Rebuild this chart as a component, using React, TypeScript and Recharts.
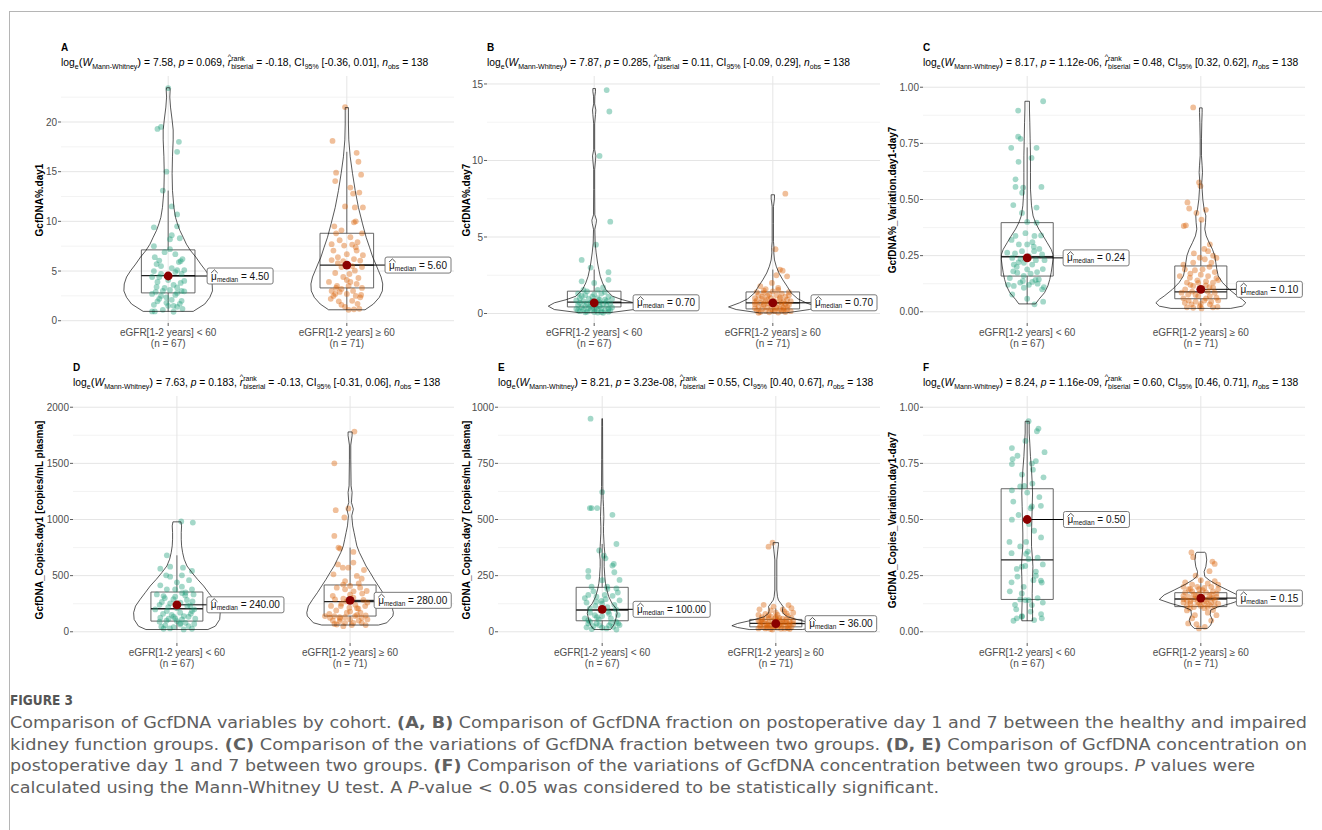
import React from "react";
import {
  ComposedChart,
  Scatter,
  XAxis,
  YAxis,
  CartesianGrid,
  ReferenceArea,
  ReferenceLine,
} from "recharts";

type Pt = [number, number];

const FONT = '"Liberation Sans", Arial, Helvetica, sans-serif';
const CAPTION_FONT = '"Liberation Sans Narrow", "DejaVu Sans Condensed", "Liberation Sans", sans-serif';

const GROUP_LABELS = ["eGFR[1-2 years] < 60", "eGFR[1-2 years] \u2265 60"];
const GROUP_N = ["(n = 67)", "(n = 71)"];
const GROUP_COLORS = ["#1B9E77", "#D95F02"];

// ---- A: GcfDNA%.day1 --------------------------------------------------
// points: [jitter, value]
const aLow: Pt[] = [
  [0.0, 23.4], [-0.06, 19.3], [-0.04, 19.5], [0.06, 18.0], [0.05, 17.0], [-0.01, 15.0], [-0.03, 13.1],
  [0.02, 11.5], [0.05, 10.7], [-0.08, 9.4], [0.05, 9.5], [0.02, 8.6], [0.065, 8.3], [0.01, 8.2],
  [-0.08, 7.5], [-0.075, 6.4], [0.04, 6.7], [-0.05, 6.05], [-0.065, 5.7], [0.05, 5.1], [0.09, 5.1],
  [0.075, 4.7], [-0.05, 4.4], [-0.09, 4.4], [-0.065, 3.4], [-0.03, 3.0], [0.01, 3.1], [0.05, 3.35],
  [0.075, 3.0], [0.09, 2.96], [-0.04, 2.5], [-0.01, 2.35], [-0.06, 1.95], [0.075, 2.0], [0.065, 1.7],
  [0.05, 1.4], [0.03, 1.5], [0.0, 1.5], [-0.075, 0.94], [-0.09, 0.94], [0.03, 0.9],
  [-0.02, 6.9], [0.08, 6.2], [-0.04, 5.5], [0.02, 5.3], [-0.08, 5.0], [0.04, 4.9], [0.0, 4.1],
  [-0.06, 3.9], [0.07, 3.8], [0.03, 3.6], [-0.02, 3.3], [0.09, 4.0], [-0.09, 2.7], [0.04, 2.6],
  [-0.05, 2.2], [0.02, 2.1], [-0.08, 1.6], [0.08, 1.2], [-0.03, 1.1], [0.06, 5.9], [-0.07, 2.9],
  [0.01, 7.2], [-0.04, 4.7], [0.05, 2.8], [-0.01, 1.8], [0.07, 6.0],
];
const aHigh: Pt[] = [
  [-0.01, 21.5], [-0.08, 18.1], [-0.06, 14.9], [-0.065, 14.05], [0.055, 16.9], [0.065, 16.0], [0.08, 14.7],
  [0.02, 13.4], [0.035, 12.8], [0.07, 12.9], [-0.01, 11.5], [0.045, 11.4], [0.09, 11.4], [0.05, 10.0],
  [0.04, 9.9], [-0.03, 9.1], [-0.06, 8.8], [0.085, 8.8], [0.02, 8.4], [-0.04, 8.1], [0.06, 7.9],
  [-0.085, 7.7], [-0.015, 7.56], [0.03, 7.66], [-0.075, 7.06], [0.055, 7.06], [0.0, 6.7], [-0.05, 6.4],
  [-0.085, 6.1], [0.04, 6.2], [0.075, 6.05], [-0.03, 5.4], [-0.065, 4.8], [0.015, 4.7], [0.045, 5.04],
  [0.085, 5.4], [-0.02, 4.4], [-0.1, 3.9], [-0.055, 3.5], [0.01, 3.5], [0.055, 3.7], [-0.085, 3.0],
  [-0.03, 3.2], [0.035, 3.0], [0.085, 3.3], [-0.065, 2.7], [0.0, 2.7], [0.05, 2.5], [-0.045, 1.95],
  [0.03, 2.0], [0.075, 2.35], [-0.01, 1.4], [0.01, 1.1], [0.04, 1.15], [0.07, 1.2], [-0.075, 2.5],
  [-0.02, 6.0], [0.065, 4.3], [-0.05, 5.8], [0.02, 3.9], [-0.09, 2.2], [0.06, 1.7], [-0.03, 1.6],
  [0.09, 6.6], [-0.07, 9.5], [0.03, 5.5], [-0.04, 2.9], [0.08, 2.6], [0.0, 4.1], [-0.06, 3.3], [0.05, 7.4],
];
// violins: [value, half width]
const aLowViolin: Pt[] = [
  [0.94, 0.14], [1.68, 0.205], [2.35, 0.233], [3.0, 0.248], [3.7, 0.246], [4.4, 0.233], [5.04, 0.21],
  [5.7, 0.182], [6.4, 0.155], [7.06, 0.125], [7.7, 0.102], [8.4, 0.084], [9.1, 0.065], [9.75, 0.052],
  [10.4, 0.041], [11.4, 0.032], [13.1, 0.024], [14.8, 0.022], [16.5, 0.024], [18.2, 0.028], [19.2, 0.028],
  [20.2, 0.022], [21.5, 0.013], [22.5, 0.009], [23.2, 0.011], [23.45, 0.009],
];
const aHighViolin: Pt[] = [
  [1.1, 0.102], [1.68, 0.149], [2.35, 0.182], [3.0, 0.199], [3.7, 0.201], [4.4, 0.192], [5.04, 0.177],
  [5.7, 0.162], [6.4, 0.145], [7.4, 0.127], [8.4, 0.108], [9.75, 0.088], [11.4, 0.065], [13.1, 0.047],
  [14.8, 0.032], [16.5, 0.019], [18.2, 0.011], [19.8, 0.009], [21.0, 0.009], [21.45, 0.009],
];
// boxes: [q1, median, q3, lower whisker, upper whisker]
const aBoxes = [[2.8, 4.54, 7.13, 0.94, 13.1], [3.3, 5.6, 8.8, 1.1, 17.0]];
const aMedians = [4.5, 5.6];

// ---- B: GcfDNA%.day7 --------------------------------------------------
const bLow: Pt[] = [
  [0.07, 14.6], [0.085, 13.2], [0.03, 10.3], [0.09, 6.0], [0.01, 4.5], [-0.07, 3.5], [-0.02, 3.0],
  [0.08, 2.7], [-0.07, 2.1], [0.0, 2.0], [0.08, 2.2], [0.05, 1.7], [-0.06, 1.55], [0.02, 1.55],
  [-0.09, 1.3], [-0.05, 1.2], [0.0, 1.25], [0.04, 1.3], [0.08, 1.1], [-0.08, 1.0], [-0.03, 0.95],
  [0.02, 1.0], [0.06, 0.9], [0.1, 0.95], [-0.1, 0.85], [-0.06, 0.8], [-0.01, 0.82], [0.03, 0.75],
  [0.07, 0.8], [-0.08, 0.7], [-0.04, 0.65], [0.01, 0.6], [0.05, 0.62], [0.09, 0.65], [-0.09, 0.55],
  [-0.05, 0.5], [-0.02, 0.45], [0.03, 0.48], [0.07, 0.5], [-0.07, 0.4], [-0.03, 0.35], [0.0, 0.3],
  [0.04, 0.35], [0.08, 0.3], [-0.1, 0.3], [-0.06, 0.25], [-0.02, 0.2], [0.02, 0.22], [0.06, 0.18],
  [-0.08, 0.15], [-0.04, 0.12], [0.0, 0.1], [0.04, 0.1], [0.08, 0.12], [-0.05, 0.08], [0.02, 0.06],
  [0.06, 1.4], [-0.04, 1.45], [-0.01, 1.1], [0.1, 0.4], [-0.09, 0.2], [0.05, 0.05], [-0.02, 0.7],
  [0.03, 0.9], [-0.07, 1.15], [0.01, 0.4], [0.09, 0.2],
];
const bHigh: Pt[] = [
  [0.07, 7.83], [0.015, 4.2], [0.04, 2.87], [0.055, 2.8], [0.08, 2.43], [0.02, 2.5], [-0.005, 2.0],
  [-0.07, 1.78], [0.03, 1.67], [-0.04, 1.6],
  [-0.09, 1.4], [-0.05, 1.35], [0.0, 1.45], [0.05, 1.3], [0.09, 1.4], [-0.08, 1.2], [-0.03, 1.15],
  [0.02, 1.2], [0.07, 1.1], [-0.1, 1.0], [-0.06, 0.95], [-0.01, 1.0], [0.04, 0.95], [0.08, 0.9],
  [-0.09, 0.85], [-0.04, 0.8], [0.01, 0.82], [0.06, 0.78], [0.1, 0.8], [-0.07, 0.7], [-0.02, 0.65],
  [0.03, 0.68], [0.07, 0.62], [-0.1, 0.6], [-0.05, 0.55], [0.0, 0.58], [0.05, 0.5], [0.09, 0.55],
  [-0.08, 0.45], [-0.03, 0.4], [0.02, 0.42], [0.06, 0.38], [-0.1, 0.35], [-0.06, 0.3], [-0.01, 0.28],
  [0.04, 0.3], [0.08, 0.25], [-0.09, 0.2], [-0.04, 0.18], [0.01, 0.15], [0.05, 0.18], [0.1, 0.15],
  [-0.07, 0.1], [-0.02, 0.08], [0.03, 0.06], [0.07, 0.1], [-0.05, 1.5], [0.03, 1.55], [-0.08, 0.05],
  [0.09, 1.2], [-0.03, 0.9], [0.02, 0.35], [-0.06, 1.1], [0.05, 0.7], [0.0, 0.2], [-0.1, 0.75],
  [0.08, 0.45], [-0.02, 1.25], [0.04, 1.05], [-0.05, 0.62], [0.06, 0.22],
];
const bLowViolin: Pt[] = [
  [0.06, 0.09], [0.26, 0.223], [0.48, 0.257], [0.7, 0.223], [0.9, 0.158], [1.13, 0.102], [1.57, 0.065],
  [2.0, 0.047], [2.43, 0.034], [2.87, 0.026], [3.3, 0.019], [3.96, 0.011], [4.6, 0.0056], [5.0, 0.0047],
  [5.5, 0.0037], [5.9, 0.011], [6.1, 0.013], [6.45, 0.0037], [8.1, 0.0028], [9.4, 0.0028], [10.0, 0.0074],
  [10.3, 0.0093], [10.7, 0.0028], [12.4, 0.0028], [13.0, 0.0074], [13.3, 0.0093], [13.7, 0.0028],
  [14.2, 0.0037], [14.5, 0.0074], [14.7, 0.0074],
];
const bHighViolin: Pt[] = [
  [0.04, 0.074], [0.26, 0.205], [0.43, 0.248], [0.7, 0.186], [0.96, 0.14], [1.35, 0.102], [1.78, 0.08],
  [2.2, 0.056], [2.65, 0.034], [3.09, 0.019], [3.5, 0.0093], [3.96, 0.0056], [4.3, 0.0065], [4.7, 0.0037],
  [5.9, 0.0037], [7.0, 0.0037], [7.5, 0.0093], [7.76, 0.0093],
];
const bBoxes = [[0.43, 0.74, 1.46, 0.08, 2.87], [0.3, 0.7, 1.41, 0.04, 2.87]];
const bMedians = [0.7, 0.7];

// ---- C: GcfDNA%_Variation.day1-day7 -----------------------------------
const cLow: Pt[] = [
  [0.092, 0.9375], [-0.052, 0.896], [-0.052, 0.78], [-0.038, 0.77], [-0.092, 0.73], [0.054, 0.73],
  [0.025, 0.685], [-0.05, 0.668], [-0.067, 0.59], [-0.067, 0.556], [-0.023, 0.553], [-0.029, 0.53],
  [0.082, 0.556], [-0.08, 0.475], [0.054, 0.464], [0.054, 0.397], [-0.067, 0.338], [0.042, 0.338],
  [-0.048, 0.3], [0.0, 0.3], [0.038, 0.29], [-0.115, 0.263], [-0.086, 0.24], [-0.038, 0.236],
  [0.01, 0.248], [0.086, 0.255], [-0.077, 0.21], [-0.019, 0.218], [0.029, 0.21], [0.0, 0.189],
  [-0.057, 0.174], [0.057, 0.177], [0.067, 0.144], [-0.025, 0.137], [0.029, 0.133], [0.048, 0.142],
  [-0.077, 0.115], [-0.019, 0.107], [0.096, 0.11], [0.086, 0.1], [-0.086, 0.077], [0.0, 0.058],
  [0.092, 0.045], [0.042, 0.033],
  [-0.09, 0.32], [-0.03, 0.27], [0.07, 0.28], [-0.06, 0.2], [0.02, 0.17], [-0.1, 0.15], [0.05, 0.23],
  [0.09, 0.19], [-0.04, 0.13], [0.01, 0.12], [-0.07, 0.26], [0.03, 0.31], [-0.01, 0.35], [0.08, 0.34],
  [-0.05, 0.22], [0.06, 0.125], [-0.02, 0.16], [0.04, 0.27], [-0.08, 0.18], [0.1, 0.23], [-0.11, 0.12],
  [0.0, 0.4], [-0.03, 0.44],
];
const cHigh: Pt[] = [
  [-0.044, 0.91], [-0.01, 0.576], [-0.002, 0.56], [-0.077, 0.487], [-0.067, 0.46], [-0.025, 0.44],
  [0.029, 0.454], [-0.098, 0.382], [-0.086, 0.385], [0.004, 0.41], [0.052, 0.3], [0.042, 0.27],
  [0.071, 0.25], [-0.006, 0.241], [0.023, 0.234], [-0.044, 0.219], [0.061, 0.219], [-0.092, 0.189],
  [-0.034, 0.185], [0.01, 0.189], [0.08, 0.177], [-0.121, 0.159], [-0.063, 0.152], [0.042, 0.159],
  [0.1, 0.141], [-0.015, 0.129], [-0.044, 0.115], [0.029, 0.118], [0.071, 0.107], [-0.111, 0.085],
  [-0.073, 0.077], [-0.015, 0.07], [0.052, 0.07], [0.09, 0.063], [-0.092, 0.04], [-0.054, 0.033],
  [-0.006, 0.025], [0.052, 0.033], [-0.044, 0.018], [0.004, 0.015], [0.096, 0.022],
  [-0.1, 0.06], [-0.07, 0.05], [-0.03, 0.045], [0.02, 0.05], [0.06, 0.045], [0.1, 0.05], [-0.09, 0.1],
  [-0.05, 0.09], [0.0, 0.095], [0.04, 0.09], [0.08, 0.085], [-0.08, 0.13], [-0.02, 0.14], [0.03, 0.135],
  [0.07, 0.13], [-0.06, 0.17], [0.0, 0.165], [0.05, 0.2], [-0.1, 0.21], [0.09, 0.24], [-0.04, 0.26],
  [0.02, 0.28], [-0.08, 0.02], [0.07, 0.02], [0.0, 0.035], [-0.03, 0.075], [0.05, 0.11], [-0.06, 0.12],
  [0.03, 0.06], [0.09, 0.15],
];
const cLowViolin: Pt[] = [
  [0.035, 0.048], [0.055, 0.067], [0.085, 0.1], [0.115, 0.119], [0.144, 0.13], [0.174, 0.138],
  [0.204, 0.144], [0.234, 0.149], [0.256, 0.148], [0.278, 0.138], [0.308, 0.115], [0.338, 0.092],
  [0.368, 0.067], [0.397, 0.048], [0.427, 0.034], [0.472, 0.025], [0.546, 0.019], [0.62, 0.019],
  [0.695, 0.019], [0.77, 0.017], [0.844, 0.015], [0.903, 0.013], [0.9375, 0.013],
];
const cHighViolin: Pt[] = [
  [0.015, 0.172], [0.025, 0.239], [0.04, 0.259], [0.055, 0.239], [0.07, 0.211], [0.1, 0.163],
  [0.13, 0.125], [0.16, 0.1], [0.19, 0.092], [0.22, 0.086], [0.25, 0.08], [0.278, 0.067], [0.308, 0.048],
  [0.338, 0.031], [0.368, 0.023], [0.397, 0.027], [0.427, 0.029], [0.457, 0.019], [0.5, 0.0115],
  [0.546, 0.0077], [0.576, 0.0057], [0.62, 0.0096], [0.65, 0.0077], [0.695, 0.0038], [0.77, 0.0038],
  [0.844, 0.0057], [0.888, 0.0077], [0.908, 0.0077],
];
const cBoxes = [[0.159, 0.245, 0.397, 0.035, 0.732], [0.058, 0.089, 0.204, 0.015, 0.405]];
const cMedians = [0.24, 0.1];

// ---- D: GcfDNA_Copies.day1 --------------------------------------------
const dLow: Pt[] = [
  [0.025, 982], [0.092, 973], [-0.058, 681], [-0.096, 562], [-0.039, 580], [0.035, 571], [0.087, 542],
  [-0.062, 503], [-0.039, 491], [0.029, 503], [-0.096, 414], [-0.058, 378], [-0.01, 378], [0.029, 402],
  [0.087, 378], [-0.116, 333], [-0.077, 318], [-0.01, 312], [0.048, 324], [0.096, 333], [-0.087, 265],
  [-0.039, 253], [0.058, 283], [0.077, 235], [-0.125, 199], [-0.058, 185], [0.019, 170], [0.087, 185],
  [-0.096, 125], [-0.048, 116], [-0.019, 134], [0.029, 110], [0.067, 134], [0.106, 116], [-0.067, 57],
  [-0.019, 42], [0.019, 65], [0.067, 51], [-0.077, 27], [0.039, 21], [0.087, 27],
  [-0.1, 90], [-0.06, 100], [0.0, 95], [0.05, 80], [0.1, 70], [-0.03, 150], [0.04, 140], [-0.08, 160],
  [0.08, 160], [0.0, 210], [-0.05, 220], [0.06, 230], [-0.1, 240], [0.02, 260], [0.09, 270], [-0.02, 290],
  [0.05, 350], [-0.07, 300], [0.0, 440], [0.07, 460], [-0.04, 30], [0.02, 75], [-0.09, 45], [0.1, 200],
  [-0.01, 120], [0.03, 345],
];
const dHigh: Pt[] = [
  [0.025, 1783], [-0.091, 1500], [-0.083, 1083], [-0.01, 1098], [-0.033, 1018], [-0.091, 854],
  [-0.067, 750], [-0.058, 741], [0.019, 711], [0.019, 616], [-0.042, 571], [-0.01, 571], [-0.096, 512],
  [0.039, 497], [0.067, 473], [-0.029, 452], [-0.077, 393], [0.0, 408], [0.058, 393], [-0.029, 378],
  [0.096, 363], [-0.087, 289], [-0.039, 295], [0.019, 304], [0.077, 283], [-0.054, 229], [-0.004, 214],
  [0.048, 205], [0.087, 229], [-0.145, 140], [-0.116, 125], [-0.091, 140], [-0.058, 116], [-0.019, 170],
  [0.029, 140], [0.067, 125], [-0.077, 65], [-0.029, 80], [0.019, 80], [0.067, 80], [-0.039, 50],
  [-0.1, 100], [-0.06, 95], [0.0, 110], [0.05, 100], [0.1, 110], [-0.12, 160], [-0.03, 130], [0.04, 150],
  [0.09, 145], [-0.08, 190], [0.0, 180], [0.06, 170], [-0.05, 250], [0.03, 240], [0.1, 260], [-0.1, 320],
  [0.0, 330], [0.07, 340], [-0.04, 420], [0.05, 430], [-0.07, 600], [0.08, 550], [0.01, 60], [-0.09, 70],
  [0.09, 60], [-0.02, 270], [0.04, 210], [-0.06, 130], [0.02, 360], [-0.11, 230],
];
const dLowViolin: Pt[] = [
  [20, 0.179], [50, 0.222], [110, 0.247], [170, 0.25], [229, 0.239], [289, 0.212], [348, 0.183],
  [408, 0.154], [467, 0.119], [527, 0.087], [586, 0.058], [646, 0.042], [705, 0.033], [765, 0.027],
  [824, 0.025], [884, 0.025], [943, 0.027], [979, 0.023],
];
const dHighViolin: Pt[] = [
  [60, 0.164], [80, 0.212], [140, 0.247], [170, 0.25], [229, 0.241], [289, 0.216], [348, 0.189],
  [408, 0.164], [467, 0.139], [527, 0.116], [586, 0.092], [646, 0.073], [705, 0.054], [765, 0.039],
  [824, 0.031], [884, 0.023], [943, 0.015], [1033, 0.0096], [1092, 0.019], [1152, 0.0077], [1241, 0.0116],
  [1300, 0.0058], [1538, 0.0039], [1663, 0.0039], [1747, 0.0116], [1780, 0.0116],
];
const dBoxes = [[95, 205, 354, 21, 681], [140, 268, 417, 60, 750]];
const dMedians = [240, 280];

// ---- E: GcfDNA_Copies.day7 --------------------------------------------
const eLow: Pt[] = [
  [-0.067, 949], [0.0, 622], [-0.071, 551], [-0.061, 551], [-0.029, 551], [0.059, 521], [0.082, 391],
  [-0.017, 362], [0.019, 327], [0.01, 339], [0.059, 295], [0.067, 302], [-0.08, 271], [0.1, 231],
  [-0.061, 201], [0.029, 201], [0.082, 193], [-0.08, 164], [-0.033, 156], [0.015, 164], [-0.033, 134],
  [-0.004, 138], [-0.071, 104], [0.034, 89], [-0.042, 74], [-0.08, 52], [-0.033, 37], [0.092, 37],
  [0.1, 30], [0.063, 22], [-0.08, 37], [0.025, 15], [0.082, 10], [-0.017, 30],
  [-0.09, 20], [-0.05, 25], [0.0, 18], [0.04, 28], [0.08, 45], [-0.1, 60], [-0.02, 55], [0.05, 60],
  [0.09, 75], [-0.07, 85], [0.0, 70], [0.03, 110], [0.07, 120], [-0.04, 115], [-0.09, 130], [0.02, 145],
  [0.06, 160], [-0.05, 180], [0.09, 175], [0.0, 230], [-0.07, 45], [0.05, 40], [-0.01, 95], [0.08, 100],
  [-0.1, 150], [0.04, 80], [-0.03, 65], [0.1, 140], [-0.06, 12], [0.03, 190], [-0.08, 245], [0.07, 265],
  [0.0, 125],
];
const eHigh: Pt[] = [
  [-0.042, 379], [-0.019, 397], [-0.094, 100], [0.073, 119], [-0.004, 60], [-0.042, 74], [0.063, 82],
  [-0.013, 112],
  [-0.1, 15], [-0.07, 20], [-0.03, 12], [0.01, 18], [0.05, 14], [0.09, 20], [-0.09, 30], [-0.05, 28],
  [-0.01, 32], [0.03, 25], [0.07, 30], [0.1, 35], [-0.08, 42], [-0.04, 38], [0.0, 45], [0.04, 40],
  [0.08, 44], [-0.1, 50], [-0.06, 55], [-0.02, 48], [0.02, 52], [0.06, 55], [0.1, 50], [-0.08, 65],
  [-0.03, 68], [0.02, 62], [0.07, 70], [-0.06, 80], [0.0, 85], [0.05, 90], [-0.09, 22], [0.0, 25],
  [0.06, 22], [-0.05, 35], [0.03, 36], [0.08, 12], [-0.02, 10], [-0.07, 40], [0.05, 45], [-0.04, 60],
  [0.09, 62], [0.01, 75], [-0.1, 75], [0.04, 100], [-0.03, 95], [0.07, 16], [-0.06, 15], [0.02, 30],
  [-0.08, 55], [0.1, 85], [-0.01, 40], [0.04, 58], [-0.05, 18], [0.0, 65], [0.08, 35], [-0.09, 45],
  [0.03, 13], [-0.02, 22], [0.06, 42], [-0.04, 28], [0.01, 50], [0.09, 105], [-0.07, 120],
];
const eLowViolin: Pt[] = [
  [10, 0.048], [30, 0.067], [52, 0.077], [82, 0.086], [104, 0.08], [126, 0.057], [156, 0.038],
  [186, 0.027], [216, 0.019], [246, 0.015], [290, 0.0115], [320, 0.0115], [350, 0.015], [380, 0.0115],
  [409, 0.0096], [439, 0.0077], [469, 0.0077], [513, 0.0096], [558, 0.0077], [588, 0.0057], [647, 0.0038],
  [766, 0.0029], [915, 0.0023], [949, 0.0019],
];
const eHighViolin: Pt[] = [
  [10, 0.153], [19, 0.22], [27, 0.253], [37, 0.22], [52, 0.134], [67, 0.067], [82, 0.042], [97, 0.038],
  [112, 0.042], [126, 0.029], [141, 0.015], [156, 0.0096], [186, 0.0057], [246, 0.0057], [320, 0.0057],
  [365, 0.0115], [387, 0.015], [397, 0.015],
];
const eBoxes = [[49, 97, 198, 10, 391], [22, 37, 55, 10, 104]];
const eMedians = [100, 36];

// ---- F: GcfDNA_Copies_Variation.day1-day7 -----------------------------
const fLow: Pt[] = [
  [0.008, 0.9375], [0.056, 0.893], [0.065, 0.905], [-0.088, 0.818], [-0.084, 0.769], [-0.088, 0.747],
  [-0.056, 0.784], [0.027, 0.749], [0.033, 0.722], [0.094, 0.688], [-0.088, 0.63], [-0.04, 0.647],
  [-0.017, 0.65], [0.027, 0.558], [0.079, 0.561], [-0.088, 0.499], [-0.102, 0.4], [-0.006, 0.4],
  [-0.006, 0.347], [0.004, 0.357], [0.008, 0.324], [-0.011, 0.293], [-0.031, 0.29], [0.05, 0.268],
  [-0.056, 0.246], [0.079, 0.228], [0.036, 0.23], [0.084, 0.219], [-0.031, 0.171], [0.008, 0.141],
  [-0.04, 0.144], [-0.011, 0.141], [0.027, 0.119], [-0.063, 0.1], [-0.031, 0.067], [0.08, 0.079],
  [0.084, 0.06], [-0.079, 0.049], [0.04, 0.052],
  [-0.07, 0.12], [0.06, 0.15], [-0.02, 0.2], [0.09, 0.3], [-0.09, 0.35], [0.04, 0.45], [-0.05, 0.52],
  [0.07, 0.6], [-0.03, 0.7], [0.1, 0.8], [-0.06, 0.06], [0.02, 0.09], [-0.1, 0.18], [0.05, 0.25],
  [-0.04, 0.38], [0.01, 0.48], [0.08, 0.42], [-0.08, 0.58], [0.03, 0.66], [-0.01, 0.85], [0.06, 0.33],
  [-0.06, 0.28], [0.0, 0.62], [0.09, 0.13], [-0.03, 0.07], [0.05, 0.76], [-0.09, 0.22], [0.02, 0.55],
];
const fHigh: Pt[] = [
  [-0.054, 0.353], [-0.044, 0.332], [0.067, 0.3125], [0.08, 0.302], [-0.073, 0.037], [-0.025, 0.034],
  [0.023, 0.022], [-0.011, 0.015], [0.09, 0.074], [-0.034, 0.074], [-0.063, 0.104], [0.071, 0.097],
  [-0.1, 0.2], [-0.06, 0.19], [-0.02, 0.2], [0.02, 0.195], [0.06, 0.2], [0.1, 0.19], [-0.09, 0.175],
  [-0.05, 0.18], [-0.01, 0.17], [0.03, 0.175], [0.07, 0.18], [-0.1, 0.16], [-0.07, 0.155], [-0.03, 0.16],
  [0.01, 0.155], [0.05, 0.16], [0.09, 0.155], [-0.08, 0.14], [-0.04, 0.145], [0.0, 0.14], [0.04, 0.145],
  [0.08, 0.14], [-0.1, 0.13], [-0.06, 0.125], [-0.02, 0.13], [0.02, 0.125], [0.06, 0.13], [0.1, 0.125],
  [-0.08, 0.115], [-0.04, 0.11], [0.0, 0.115], [0.04, 0.11], [0.08, 0.115], [-0.05, 0.21], [0.04, 0.215],
  [-0.09, 0.22], [0.08, 0.225], [0.0, 0.23], [-0.03, 0.25], [0.05, 0.27], [-0.01, 0.19], [0.06, 0.165],
  [-0.06, 0.135], [0.03, 0.135], [-0.02, 0.15], [0.09, 0.17], [-0.1, 0.145], [0.01, 0.185], [-0.07, 0.19],
  [0.07, 0.15], [-0.04, 0.165], [0.02, 0.105], [-0.08, 0.095], [0.05, 0.12], [0.1, 0.21], [-0.01, 0.125],
  [0.04, 0.085], [-0.05, 0.06], [0.06, 0.05],
];
const fLowViolin: Pt[] = [
  [0.049, 0.031], [0.082, 0.031], [0.141, 0.029], [0.171, 0.029], [0.246, 0.031], [0.29, 0.033],
  [0.32, 0.031], [0.38, 0.025], [0.44, 0.025], [0.5, 0.027], [0.558, 0.029], [0.618, 0.031],
  [0.662, 0.029], [0.72, 0.025], [0.78, 0.019], [0.84, 0.015], [0.885, 0.0115], [0.93, 0.0115],
  [0.9375, 0.0115],
];
const fHighViolin: Pt[] = [
  [0.015, 0.038], [0.03, 0.057], [0.052, 0.067], [0.075, 0.054], [0.097, 0.057], [0.11, 0.096],
  [0.126, 0.172], [0.144, 0.239], [0.164, 0.211], [0.186, 0.153], [0.208, 0.096], [0.23, 0.048],
  [0.246, 0.023], [0.268, 0.019], [0.29, 0.029], [0.32, 0.034], [0.35, 0.029], [0.354, 0.023],
];
const fBoxes = [[0.144, 0.32, 0.637, 0.049, 0.9375], [0.112, 0.146, 0.174, 0.02, 0.238]];
const fMedians = [0.5, 0.15];

// stats text per panel: [log W, p, r, CI]
const statsA = ["7.58", "0.069", "-0.18", "[-0.36, 0.01]"];
const statsB = ["7.87", "0.285", "0.11", "[-0.09, 0.29]"];
const statsC = ["8.17", "1.12e-06", "0.48", "[0.32, 0.62]"];
const statsD = ["7.63", "0.183", "-0.13", "[-0.31, 0.06]"];
const statsE = ["8.21", "3.23e-08", "0.55", "[0.40, 0.67]"];
const statsF = ["8.24", "1.16e-09", "0.60", "[0.46, 0.71]"];

const ticks01 = [0, 0.25, 0.5, 0.75, 1];
const minor01 = [0.125, 0.375, 0.625, 0.875];

interface PanelDef {
  letter: string;
  stats: string[];
  yLabel: string;
  domain: [number, number];
  ticks: number[];
  minor: number[];
  decimals: number;
  points: Pt[][];
  violins: Pt[][];
  boxes: number[][];
  medians: number[];
  labelDx: number[];
  left: number;
  top: number;
  width: number;
  yLabelX: number;
}

const PANELS: PanelDef[] = [
  {
    letter: "A", stats: statsA, yLabel: "GcfDNA%.day1", domain: [-0.23, 24.63],
    ticks: [0, 5, 10, 15, 20], minor: [2.5, 7.5, 12.5, 17.5, 22.5], decimals: 0,
    points: [aLow, aHigh], violins: [aLowViolin, aHighViolin], boxes: aBoxes, medians: aMedians,
    labelDx: [0.218, 0.214], left: 61, top: 76, width: 393, yLabelX: 40,
  },
  {
    letter: "B", stats: statsB, yLabel: "GcfDNA%.day7", domain: [-0.62, 15.52],
    ticks: [0, 5, 10, 15], minor: [2.5, 7.5, 12.5], decimals: 0,
    points: [bLow, bHigh], violins: [bLowViolin, bHighViolin], boxes: bBoxes, medians: bMedians,
    labelDx: [0.218, 0.214], left: 487, top: 76, width: 393, yLabelX: 467,
  },
  {
    letter: "C", stats: statsC, yLabel: "GcfDNA%_Variation.day1-day7", domain: [-0.05, 1.05],
    ticks: ticks01, minor: minor01, decimals: 2,
    points: [cLow, cHigh], violins: [cLowViolin, cHighViolin], boxes: cBoxes, medians: cMedians,
    labelDx: [0.207, 0.205], left: 923, top: 76, width: 382, yLabelX: 893,
  },
  {
    letter: "D", stats: statsD, yLabel: "GcfDNA_Copies.day1 [copies/mL plasma]", domain: [-100, 2100],
    ticks: [0, 500, 1000, 1500, 2000], minor: [250, 750, 1250, 1750], decimals: 0,
    points: [dLow, dHigh], violins: [dLowViolin, dHighViolin], boxes: dBoxes, medians: dMedians,
    labelDx: [0.173, 0.139], left: 73, top: 396, width: 381, yLabelX: 40,
  },
  {
    letter: "E", stats: statsE, yLabel: "GcfDNA_Copies.day7 [copies/mL plasma]", domain: [-50, 1050],
    ticks: [0, 250, 500, 750, 1000], minor: [125, 375, 625, 875], decimals: 0,
    points: [eLow, eHigh], violins: [eLowViolin, eHighViolin], boxes: eBoxes, medians: eMedians,
    labelDx: [0.178, 0.169], left: 498, top: 396, width: 382, yLabelX: 467,
  },
  {
    letter: "F", stats: statsF, yLabel: "GcfDNA_Copies_Variation.day1-day7", domain: [-0.05, 1.05],
    ticks: ticks01, minor: minor01, decimals: 2,
    points: [fLow, fHigh], violins: [fLowViolin, fHighViolin], boxes: fBoxes, medians: fMedians,
    labelDx: [0.209, 0.205], left: 923, top: 396, width: 382, yLabelX: 893,
  },
];

const PLOT_H = 247;
const Y_W = 60;
const X_H = 32;
const BOX_HALF = 0.15;

// outline of a violin: right side up, left side down, closed
function violinOutline(c: number, v: Pt[]) {
  const right = v.map(([y, w]) => ({ x: c + w, y }));
  const left = [...v].reverse().map(([y, w]) => ({ x: c - w, y }));
  return [...right, ...left, right[0]];
}

function charW(ch: string) {
  if (ch === ".") return 2.78;
  if (ch === "-") return 3.33;
  return 5.56;
}

function MedianLabel({ cx, cy, text }: { cx: number; cy: number; text: string }) {
  const w = 8 + 5.8 + 21.3 + 11.4 + text.split("").reduce((s, ch) => s + charW(ch), 0);
  const h = 16;
  return (
    <g>
      <rect x={cx} y={cy - h / 2} width={w} height={h} rx={2} fill="#fff" stroke="#6b6b6b" strokeWidth={0.9} />
      <path
        d={`M${cx + 4} ${cy - 3} L${cx + 7.3} ${cy - 6.2} L${cx + 10.6} ${cy - 3}`}
        fill="none"
        stroke="#111"
        strokeWidth={0.7}
      />
      <text x={cx + 4} y={cy + 3.6} fontSize={10} fill="#111" fontFamily={FONT} style={{ whiteSpace: "pre" }}>
        <tspan>μ</tspan>
        <tspan fontSize={6.5} dy={2}>median</tspan>
        <tspan dy={-2}>{" = " + text}</tspan>
      </text>
    </g>
  );
}

function CatTick(props: any) {
  const { x, y, payload } = props;
  const i = Math.round(payload.value) - 1;
  return (
    <text x={x} y={y} textAnchor="middle" fontSize={10} fill="#4d4d4d" fontFamily={FONT}>
      <tspan x={x} dy={8}>{GROUP_LABELS[i]}</tspan>
      <tspan x={x} dy={11}>{GROUP_N[i]}</tspan>
    </text>
  );
}

const SUB: React.CSSProperties = { fontSize: 7, position: "relative", top: 2.6 };

function Subtitle({ s, left, top }: { s: string[]; left: number; top: number }) {
  return (
    <div
      style={{
        position: "absolute", left, top, fontSize: 10.3, lineHeight: "12px", whiteSpace: "nowrap",
        fontFamily: FONT, color: "#000",
      }}
    >
      log<span style={SUB}>e</span>
      <span style={{ fontSize: 11.5 }}>(</span>
      <i>W</i><span style={SUB}>Mann-Whitney</span>
      <span style={{ fontSize: 11.5 }}>)</span> = {s[0]}, <i>p</i> = {s[1]},{" "}
      <span style={{ position: "relative", fontStyle: "italic" }}>
        r
        <span style={{ position: "absolute", left: 0, top: -6, fontSize: 7.5, fontStyle: "normal" }}>^</span>
      </span>
      <span
        style={{
          display: "inline-flex", flexDirection: "column", fontSize: 7, lineHeight: "7.5px",
          position: "relative", top: -4.8, verticalAlign: "baseline",
        }}
      >
        <span>rank</span>
        <span>biserial</span>
      </span>{" "}
      = {s[2]}, CI<span style={SUB}>95%</span> {s[3]}, <i>n</i><span style={SUB}>obs</span> = 138
    </div>
  );
}

function Panel({ d }: { d: PanelDef }) {
  const fmt = (v: number) => v.toFixed(d.decimals);
  const centers = [1, 2];
  return (
    <>
      <div
        style={{
          position: "absolute", left: d.left, top: d.top - 34, fontSize: 10, lineHeight: "12px",
          fontWeight: 700, fontFamily: FONT,
        }}
      >
        {d.letter}
      </div>
      <Subtitle s={d.stats} left={d.left} top={d.top - 20} />
      <div
        style={{
          position: "absolute", left: d.yLabelX, top: d.top + PLOT_H / 2, fontSize: 10, fontWeight: 700,
          fontFamily: FONT, whiteSpace: "nowrap", transform: "translate(-50%, -50%) rotate(-90deg)",
          lineHeight: "12px",
        }}
      >
        {d.yLabel}
      </div>
      <div style={{ position: "absolute", left: d.left - Y_W, top: d.top }}>
        <ComposedChart
          width={Y_W + d.width}
          height={PLOT_H + X_H}
          margin={{ top: 0, right: 0, bottom: 0, left: 0 }}
        >
          <CartesianGrid horizontalValues={d.minor} vertical={false} stroke="#f2f2f2" strokeWidth={0.9} />
          <CartesianGrid horizontalValues={d.ticks} verticalValues={centers} stroke="#e5e5e5" strokeWidth={1} />
          <XAxis
            type="number"
            dataKey="x"
            domain={[0.4, 2.6]}
            ticks={centers}
            interval={0}
            allowDataOverflow
            height={X_H}
            axisLine={false}
            tickSize={3}
            tickMargin={2}
            tickLine={{ stroke: "#333", strokeWidth: 0.8 }}
            tick={<CatTick />}
          />
          <YAxis
            type="number"
            dataKey="y"
            domain={d.domain}
            ticks={d.ticks}
            interval={0}
            allowDataOverflow
            width={Y_W}
            axisLine={false}
            tickSize={3}
            tickMargin={1}
            tickLine={{ stroke: "#333", strokeWidth: 0.8 }}
            tickFormatter={fmt}
            tick={{ fontSize: 10, fill: "#4d4d4d", fontFamily: FONT }}
          />
          {centers.map((c, g) => (
            <Scatter
              key={`p${g}`}
              data={d.points[g].map(([dx, y]) => ({ x: c + dx, y }))}
              isAnimationActive={false}
              shape={(p: any) => (
                <circle cx={p.cx} cy={p.cy} r={2.9} fill={GROUP_COLORS[g]} fillOpacity={0.4} />
              )}
            />
          ))}
          {centers.map((c, g) => (
            <ReferenceArea
              key={`b${g}`}
              x1={c - BOX_HALF}
              x2={c + BOX_HALF}
              y1={d.boxes[g][0]}
              y2={d.boxes[g][2]}
              fill="#fff"
              fillOpacity={0.15}
              stroke="#555"
              strokeWidth={0.9}
              ifOverflow="visible"
            />
          ))}
          {centers.map((c, g) => (
            <ReferenceLine
              key={`wu${g}`}
              segment={[{ x: c, y: d.boxes[g][2] }, { x: c, y: d.boxes[g][4] }]}
              stroke="#555"
              strokeWidth={0.9}
            />
          ))}
          {centers.map((c, g) => (
            <ReferenceLine
              key={`wl${g}`}
              segment={[{ x: c, y: d.boxes[g][3] }, { x: c, y: d.boxes[g][0] }]}
              stroke="#555"
              strokeWidth={0.9}
            />
          ))}
          {centers.map((c, g) => (
            <ReferenceLine
              key={`m${g}`}
              segment={[{ x: c - BOX_HALF, y: d.boxes[g][1] }, { x: c + BOX_HALF, y: d.boxes[g][1] }]}
              stroke="#222"
              strokeWidth={1.3}
            />
          ))}
          {centers.map((c, g) => (
            <Scatter
              key={`v${g}`}
              data={violinOutline(c, d.violins[g])}
              isAnimationActive={false}
              line={{ stroke: "#111", strokeWidth: 0.7, fill: "none" }}
              lineType="joint"
              shape={() => <g />}
            />
          ))}
          {centers.map((c, g) => (
            <ReferenceLine
              key={`c${g}`}
              segment={[{ x: c, y: d.medians[g] }, { x: c + d.labelDx[g], y: d.medians[g] }]}
              stroke="#000"
              strokeWidth={1}
            />
          ))}
          {centers.map((c, g) => (
            <Scatter
              key={`r${g}`}
              data={[{ x: c, y: d.medians[g] }]}
              isAnimationActive={false}
              shape={(p: any) => <circle cx={p.cx} cy={p.cy} r={4.4} fill="#8B0000" />}
            />
          ))}
          {centers.map((c, g) => (
            <Scatter
              key={`l${g}`}
              data={[{ x: c + d.labelDx[g], y: d.medians[g] }]}
              isAnimationActive={false}
              shape={(p: any) => <MedianLabel cx={p.cx} cy={p.cy} text={d.medians[g].toFixed(2)} />}
            />
          ))}
        </ComposedChart>
      </div>
    </>
  );
}

function Caption() {
  return (
    <svg
      width={1322}
      height={130}
      style={{ position: "absolute", left: 0, top: 680 }}
      fontFamily={CAPTION_FONT}
    >
      <text x={10} y={25} fontSize={14} fontWeight={600} fill="#555" textLength={63} lengthAdjust="spacingAndGlyphs">
        FIGURE 3
      </text>
      <text x={10} y={47.5} fontSize={16} fill="#606060" textLength={1297} lengthAdjust="spacingAndGlyphs" style={{ whiteSpace: "pre" }}>
        Comparison of GcfDNA variables by cohort. <tspan fontWeight={700}>(A, B)</tspan> Comparison of GcfDNA fraction on
        postoperative day 1 and 7 between the healthy and impaired
      </text>
      <text x={10} y={69.5} fontSize={16} fill="#606060" textLength={1297} lengthAdjust="spacingAndGlyphs" style={{ whiteSpace: "pre" }}>
        kidney function groups. <tspan fontWeight={700}>(C)</tspan> Comparison of the variations of GcfDNA fraction between
        two groups. <tspan fontWeight={700}>(D, E)</tspan> Comparison of GcfDNA concentration on
      </text>
      <text x={10} y={90.5} fontSize={16} fill="#606060" textLength={1245} lengthAdjust="spacingAndGlyphs" style={{ whiteSpace: "pre" }}>
        postoperative day 1 and 7 between two groups. <tspan fontWeight={700}>(F)</tspan> Comparison of the variations of
        GcfDNA concentration between two groups. <tspan fontStyle="italic">P</tspan> values were
      </text>
      <text x={10} y={112.5} fontSize={16} fill="#606060" textLength={929} lengthAdjust="spacingAndGlyphs" style={{ whiteSpace: "pre" }}>
        calculated using the Mann-Whitney U test. A <tspan fontStyle="italic">P</tspan>-value {"<"} 0.05 was considered to
        be statistically significant.
      </text>
    </svg>
  );
}

export default function App() {
  return (
    <div
      style={{
        position: "absolute", left: 0, top: 0, width: 1322, height: 830, background: "#fff",
        overflow: "hidden", fontFamily: FONT,
      }}
    >
      <div
        style={{
          position: "absolute", left: 9, top: 11, width: 1320, height: 830,
          borderTop: "1px solid #b5b5b5", borderLeft: "1px solid #b5b5b5",
        }}
      />
      {PANELS.map((d) => (
        <Panel key={d.letter} d={d} />
      ))}
      <Caption />
    </div>
  );
}
